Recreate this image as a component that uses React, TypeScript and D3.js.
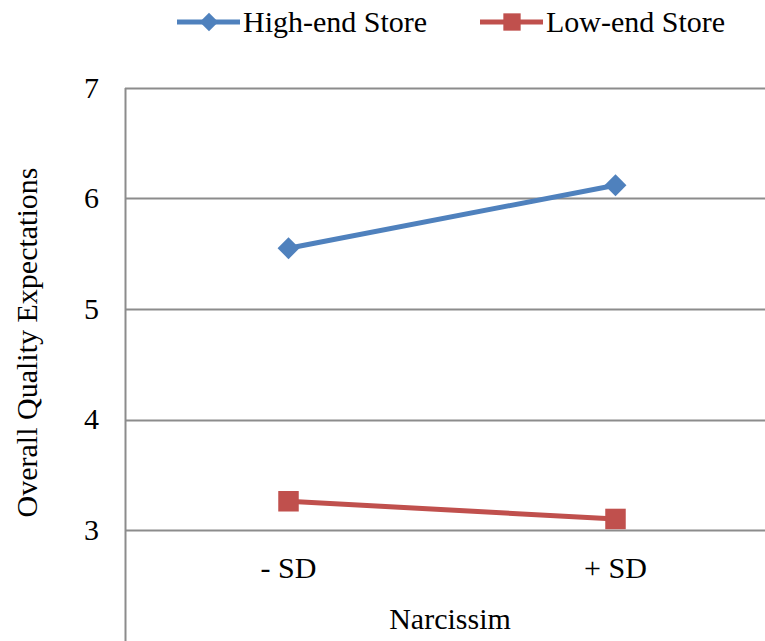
import React, { useEffect, useRef } from "react";
import * as d3 from "d3";

const categories = ["- SD", "+ SD"];
const highEnd = [5.55, 6.12];
const lowEnd = [3.26, 3.1];
const yTicks = [3, 4, 5, 6, 7];
const seriesNames = ["High-end Store", "Low-end Store"];

const W = 765;
const H = 641;
const FONT = "Liberation Serif";
const FS = 30;

const App = () => {
  const svgRef = useRef<SVGSVGElement>(null);

  useEffect(() => {
    const svg = d3.select(svgRef.current);
    svg.selectAll("*").remove();

    const colors = ["#4F81BD", "#C0504D"];
    const series = [highEnd, lowEnd];

    // scales (axis crosses at 3, minimum at 2 like the Excel original)
    const yScale = d3.scaleLinear().domain([2, 7]).range([640.5, 88]);
    const xScale = d3.scaleBand().domain(categories).range([125, 779]);
    const cx = (c: string) => (xScale(c) ?? 0) + xScale.bandwidth() / 2;

    // gridlines
    svg
      .append("g")
      .selectAll("line")
      .data(yTicks)
      .join("line")
      .attr("x1", 125)
      .attr("x2", W)
      .attr("y1", (d) => Math.round(yScale(d)) + 0.5)
      .attr("y2", (d) => Math.round(yScale(d)) + 0.5)
      .attr("stroke", "#8c8c8c")
      .attr("stroke-width", 2);

    // y axis line
    svg
      .append("line")
      .attr("x1", 125.5)
      .attr("x2", 125.5)
      .attr("y1", yScale(7))
      .attr("y2", H)
      .attr("stroke", "#8c8c8c")
      .attr("stroke-width", 2);

    // y tick labels
    svg
      .append("g")
      .selectAll("text")
      .data(yTicks)
      .join("text")
      .attr("x", 99)
      .attr("y", (d) => yScale(d))
      .attr("dy", "0.33em")
      .attr("text-anchor", "end")
      .attr("font-family", FONT)
      .attr("font-size", FS)
      .text((d) => d);

    // category labels
    svg
      .append("g")
      .selectAll("text")
      .data(categories)
      .join("text")
      .attr("x", (d) => cx(d))
      .attr("y", yScale(3) + 48)
      .attr("text-anchor", "middle")
      .attr("font-family", FONT)
      .attr("font-size", FS)
      .text((d) => d);

    // axis titles
    svg
      .append("text")
      .attr("x", 450)
      .attr("y", 629)
      .attr("text-anchor", "middle")
      .attr("font-family", FONT)
      .attr("font-size", FS)
      .text("Narcissim");

    svg
      .append("text")
      .attr("transform", `translate(37, ${(165 + 520) / 2}) rotate(-90)`)
      .attr("text-anchor", "middle")
      .attr("font-family", FONT)
      .attr("font-size", FS)
      .text("Overall Quality Expectations");

    // lines + markers
    const line = d3
      .line<number>()
      .x((_, i) => cx(categories[i]))
      .y((d) => yScale(d));

    series.forEach((vals, s) => {
      svg
        .append("path")
        .datum(vals)
        .attr("d", line)
        .attr("fill", "none")
        .attr("stroke", colors[s])
        .attr("stroke-width", 5);

      svg
        .append("g")
        .selectAll("path")
        .data(vals)
        .join("path")
        .attr("d", d3.symbol().type(d3.symbolSquare).size(s === 0 ? 240 : 420)())
        .attr("transform", (d, i) =>
          `translate(${cx(categories[i])},${yScale(d)})` + (s === 0 ? " rotate(45)" : "")
        )
        .attr("fill", colors[s]);
    });

    // legend
    const legendX = [177, 480];
    const legend = svg
      .append("g")
      .selectAll("g")
      .data(seriesNames)
      .join("g")
      .attr("transform", (_, i) => `translate(${legendX[i]}, 22)`);

    legend
      .append("line")
      .attr("x1", 0)
      .attr("x2", 63)
      .attr("stroke", (_, i) => colors[i])
      .attr("stroke-width", 5);

    legend
      .append("path")
      .attr("d", (_, i) =>
        d3.symbol().type(d3.symbolSquare).size(i === 0 ? 170 : 300)()
      )
      .attr("transform", (_, i) => `translate(32,0)` + (i === 0 ? " rotate(45)" : ""))
      .attr("fill", (_, i) => colors[i]);

    legend
      .append("text")
      .attr("x", 66)
      .attr("dy", "0.33em")
      .attr("font-family", FONT)
      .attr("font-size", FS)
      .text((d) => d);
  }, []);

  return (
    <svg
      ref={svgRef}
      width={W}
      height={H}
      style={{ position: "absolute", left: 0, top: 0, background: "#fff" }}
    ></svg>
  );
};

export default App;
